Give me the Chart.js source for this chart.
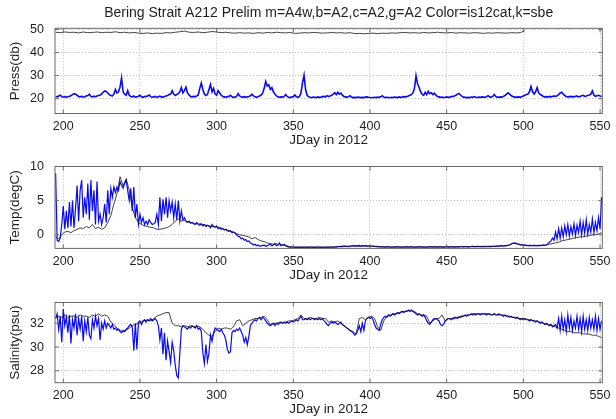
<!DOCTYPE html>
<html>
<head>
<meta charset="utf-8">
<title>Bering Strait A212</title>
<script src="https://cdn.jsdelivr.net/npm/chart.js@4.4.1/dist/chart.umd.min.js"></script>
<style>
  html, body { margin: 0; padding: 0; background: #fff; }
  #wrap { position: relative; width: 616px; height: 419px; overflow: hidden; }
  #wrap canvas { position: absolute; left: 0; }
</style>
</head>
<body>
<div id="wrap">
  <canvas id="press-chart" width="616" height="148" style="top:0px;width:616px;height:148px"></canvas>
  <canvas id="temp-chart" width="616" height="136" style="top:148px;width:616px;height:136px"></canvas>
  <canvas id="sal-chart" width="616" height="135" style="top:284px;width:616px;height:135px"></canvas>
</div>
<script>
// Bering Strait A212 mooring: pressure / temperature / salinity vs day

// x axis (JDay in 2012)
const dayMin = 194.6;
const dayMax = 551.5;
const dayTicks = [200, 250, 300, 350, 400, 450, 500, 550];

// ---- pressure (db) ----
const pressTicks = [20, 30, 40, 50];
const pressBlueStart = 195, pressBlueStep = 1;
const pressBlue = [
  21.0, 20.8, 21.2, 21.5, 20.9, 20.7, 21.0, 20.6, 20.9, 21.1,
  21.3, 21.8, 22.2, 22.0, 21.5, 21.0, 20.8, 21.1, 20.7, 20.9,
  21.2, 21.4, 22.0, 21.0, 20.8, 21.1, 20.9, 21.2, 21.4, 21.6,
  22.0, 22.8, 23.4, 23.2, 22.5, 21.8, 21.4, 21.2, 22.0, 24.0,
  22.5, 23.0, 25.0, 29.0, 23.0, 22.0, 21.5, 23.5, 21.5, 21.0,
  20.8, 21.2, 20.7, 20.9, 21.1, 21.5, 20.8, 20.6, 20.9, 21.0,
  21.2, 21.6, 20.9, 20.7, 20.8, 21.0, 20.6, 20.9, 21.1, 20.8,
  20.7, 21.0, 21.2, 21.4, 21.8, 22.0, 23.5, 22.0, 21.4, 21.8,
  22.2, 23.0, 24.8, 22.5, 23.5, 25.0, 22.5, 21.6, 21.0, 20.8,
  21.0, 20.9, 21.2, 21.6, 24.5, 26.8, 24.0, 22.0, 21.4, 21.8,
  24.0, 26.2, 23.0, 24.5, 22.0, 21.5, 23.5, 22.5, 21.5, 21.0,
  20.8, 20.6, 20.9, 21.0, 21.5, 20.8, 20.6, 20.7, 21.0, 22.2,
  21.2, 20.8, 20.6, 20.9, 20.7, 20.8, 21.0, 21.3, 22.0, 21.2,
  20.8, 20.6, 20.9, 21.2, 21.6, 22.4, 24.5, 27.5, 25.5, 26.0,
  24.0, 24.8, 23.0, 22.0, 21.2, 20.8, 20.6, 20.8, 20.7, 21.0,
  21.8, 21.0, 20.6, 20.5, 20.8, 20.9, 21.6, 20.8, 20.6, 21.0,
  22.5, 27.0, 30.2, 24.0, 21.5, 20.8, 20.6, 20.5, 20.7, 20.6,
  20.5, 20.8, 20.6, 20.7, 20.9, 21.0, 20.8, 21.3, 21.0, 21.2,
  21.5, 22.0, 22.6, 21.8, 22.8, 22.0, 22.4, 21.5, 21.0, 20.8,
  20.6, 20.9, 21.3, 20.7, 20.5, 20.6, 20.5, 20.7, 20.6, 20.5,
  20.6, 20.5, 20.7, 20.8, 20.6, 20.5, 20.4, 20.5, 20.6, 20.5,
  20.7, 20.6, 20.8, 21.3, 20.7, 20.5, 20.6, 20.5, 20.4, 20.6,
  20.5, 20.7, 20.6, 20.5, 20.8, 20.6, 20.7, 20.9, 20.8, 21.0,
  21.2, 21.5, 21.8, 22.5, 24.5, 30.0, 26.5, 25.0, 23.0, 22.0,
  21.5, 22.8, 21.8, 23.2, 22.2, 22.6, 21.8, 22.4, 21.5, 21.0,
  20.8, 20.6, 20.7, 20.5, 20.6, 20.8, 20.6, 20.7, 20.9, 21.0,
  21.2, 21.5, 22.0, 22.3, 21.6, 21.0, 20.7, 20.6, 20.5, 20.6,
  20.5, 20.7, 20.6, 20.9, 20.6, 20.5, 20.7, 20.6, 20.8, 20.7,
  20.6, 20.9, 21.3, 20.8, 20.7, 21.0, 21.8, 21.0, 20.7, 20.6,
  20.8, 20.7, 21.0, 21.4, 22.0, 22.6, 22.0, 21.4, 21.0, 20.8,
  20.6, 20.7, 20.8, 20.6, 20.9, 21.2, 21.5, 21.8, 22.0, 23.0,
  25.3, 23.0, 22.0, 23.0, 24.8, 22.5, 21.8, 21.5, 21.0, 20.8,
  20.9, 20.7, 21.0, 20.8, 21.0, 21.2, 21.0, 21.3, 21.8, 22.5,
  22.8, 22.0, 21.4, 21.0, 20.8, 20.9, 21.0, 20.8, 20.9, 21.0,
  21.2, 20.8, 21.0, 21.3, 21.5, 21.0, 21.2, 21.4, 21.6, 22.0,
  23.4, 21.5, 21.0, 21.3, 21.5, 21.2, 21.0
];
const pressBlackStart = 195, pressBlackStep = 3;
const pressBlack = [
  48.8, 48.6, 48.9, 48.7, 48.8, 48.5, 48.9, 48.6, 48.7, 48.9,
  48.6, 48.8, 48.7, 49.0, 48.6, 48.8, 48.5, 48.7, 48.4, 48.3,
  48.5, 48.2, 48.4, 48.3, 48.6, 48.5, 48.8, 49.0, 49.3, 48.8,
  48.7, 48.9, 48.6, 48.8, 49.1, 48.9, 48.6, 48.8, 48.5, 48.4,
  48.6, 48.4, 48.5, 48.3, 48.6, 48.4, 48.7, 48.5, 48.8, 48.6,
  48.5, 48.7, 48.3, 48.4, 48.6, 48.5, 48.7, 48.6, 48.4, 48.5,
  48.7, 48.5, 48.6, 48.4, 48.6, 48.2, 48.3, 48.1, 48.3, 48.4,
  48.2, 48.4, 48.3, 48.5, 48.4, 48.6, 48.7, 48.5, 48.6, 48.4,
  48.7, 48.5, 48.6, 48.8, 48.6, 48.5, 48.7, 48.4, 48.6, 48.5,
  48.4, 48.6, 48.5, 48.3, 48.5, 48.4, 48.6, 48.5, 48.4, 48.6,
  48.5, 48.6, 49.5
];

// ---- temperature (degC) ----
const tempTicks = [0, 5, 10];
const tempBlueStart = 195, tempBlueStep = 1;
const tempBlue = [
  9.0, -0.8, -1.0, -0.5, 1.5, 4.2, 0.8, 3.5, 1.0, 4.8,
  1.2, 5.0, 1.0, 3.8, 7.2, 2.0, 6.5, 8.0, 2.5, 5.5,
  3.0, 7.5, 2.2, 8.0, 3.5, 6.5, 1.5, 7.8, 2.0, 3.0,
  1.5, 2.5, 4.5, 1.8, 6.5, 3.0, 6.8, 5.5, 7.0, 6.2,
  7.0, 6.5, 7.8, 7.2, 6.8, 7.5, 8.0, 6.5, 5.0, 6.8,
  3.5, 7.0, 2.5, 4.5, 1.5, 3.0, 1.8, 2.5, 1.5, 2.0,
  1.5, 2.2, 1.8, 1.5, 1.6, 1.8, 3.0, 1.5, 5.5, 2.0,
  5.2, 3.0, 5.5, 2.5, 5.0, 3.5, 4.8, 2.5, 4.5, 2.2,
  5.0, 2.0, 3.5, 2.2, 2.5, 2.0, 1.8, 2.0, 1.7, 1.8,
  1.6, 1.5, 1.8, 1.5, 1.4, 1.6, 1.3, 1.5, 1.2, 1.4,
  1.3, 1.0, 1.5, 1.2, 1.1, 1.3, 0.9, 1.0, 0.8, 0.9,
  0.7, 0.8, 0.6, 0.5, 0.6, 0.3, 0.4, 0.2, 0.0, -0.2,
  -0.3, -0.6, -0.5, -0.8, -0.7, -1.0, -0.9, -1.2, -1.3, -1.5,
  -1.4, -1.6, -1.5, -1.7, -1.6, -1.6, -1.5, -1.7, -1.6, -1.5,
  -1.4, -1.6, -1.5, -1.3, -1.6, -1.5, -1.2, -1.6, -1.5, -1.4,
  -1.6, -1.7, -1.8, -1.8, -1.8, -1.85, -1.85, -1.85, -1.85, -1.85,
  -1.85, -1.85, -1.8, -1.85, -1.85, -1.85, -1.8, -1.85, -1.85, -1.85,
  -1.85, -1.8, -1.85, -1.85, -1.85, -1.85, -1.8, -1.85, -1.85, -1.8,
  -1.8, -1.85, -1.8, -1.8, -1.75, -1.75, -1.7, -1.75, -1.7, -1.7,
  -1.7, -1.75, -1.7,
  -1.65, -1.6, -1.7, -1.6, -1.65, -1.55, -1.7, -1.6, -1.65, -1.6,
  -1.7, -1.65, -1.6, -1.7, -1.65, -1.7, -1.75, -1.7,
  -1.75, -1.8, -1.75, -1.8, -1.8, -1.8, -1.75, -1.8, -1.8, -1.8,
  -1.8, -1.8, -1.75, -1.8, -1.8, -1.8, -1.8, -1.75, -1.8, -1.8,
  -1.8, -1.75, -1.8, -1.8, -1.8, -1.8, -1.8, -1.75, -1.8, -1.8,
  -1.8, -1.8, -1.8, -1.75, -1.8, -1.8, -1.75, -1.8, -1.8, -1.8,
  -1.75, -1.8, -1.8, -1.8, -1.75, -1.8, -1.8, -1.75, -1.8, -1.75,
  -1.8, -1.75, -1.8, -1.75, -1.75, -1.8, -1.75, -1.75, -1.8, -1.75,
  -1.75, -1.7, -1.75, -1.75, -1.7, -1.75, -1.75, -1.7, -1.75, -1.7,
  -1.75, -1.75, -1.7, -1.75, -1.7,
  -1.7, -1.7, -1.65, -1.7, -1.65, -1.6, -1.65, -1.6, -1.6, -1.55,
  -1.5, -1.35, -1.25, -1.2, -1.3, -1.35, -1.4, -1.5, -1.45,
  -1.55, -1.5, -1.55, -1.6, -1.55, -1.6, -1.6, -1.55, -1.6, -1.6,
  -1.55, -1.6, -1.55, -1.5, -1.55,
  -1.5, -1.3, -1.1, -0.9, -0.5, -0.8,
  0.4, -0.6, 0.9, -0.5, 1.0, -0.3, 1.3, 0.0, 1.5, -0.2,
  1.2, 0.1, 1.6, -0.1, 1.4, 0.3, 2.0, 0.0, 1.8, 0.2,
  2.2, 0.1, 1.5, 0.4, 2.3, 0.3, 1.8, 0.6, 2.5, 0.8, 5.5
];
const tempBlackStart = 195, tempBlackStep = 2;
const tempBlack = [
  -0.3, -0.6, 0.0, 0.4, 0.5, 0.3, 0.6, 0.8, 1.0, 0.9,
  1.2, 1.0, 1.5, 0.9, 1.1, 0.8, 1.0, 1.8, 2.8, 4.5,
  6.0, 8.5, 7.2, 8.2, 6.5, 4.0, 2.5, 1.8, 1.5, 1.3,
  1.2, 1.1, 1.0, 0.8, 0.8, 0.9, 1.0, 1.2, 1.5, 2.0,
  2.3, 2.0, 2.1, 1.9, 1.8, 1.7, 1.6, 1.6, 1.5, 1.4,
  1.3, 1.2, 1.2, 1.1, 1.0, 0.8, 0.7, 0.5, 0.4, 0.2,
  0.0, -0.1, -0.2, -0.3, -0.6, -0.4, -0.7, -0.9, -1.0, -1.2,
  -1.3, -1.4, -1.3, -1.5, -1.5, -1.6, -1.7, -1.8, -1.8, -1.8,
  -1.8, -1.8, -1.8, -1.8, -1.8, -1.8, -1.8, -1.8, -1.8, -1.8, -1.8, -1.75, -1.75,
  -1.7, -1.65, -1.7, -1.65, -1.6, -1.65, -1.7, -1.65, -1.6, -1.65, -1.7, -1.7, -1.75, -1.75, -1.75,
  -1.75, -1.8, -1.8, -1.75, -1.8, -1.8, -1.8, -1.75, -1.8, -1.8,
  -1.75, -1.8, -1.8, -1.8, -1.75, -1.8, -1.75, -1.75, -1.8, -1.75,
  -1.75, -1.75, -1.8, -1.75, -1.75, -1.7, -1.75, -1.75, -1.7, -1.75,
  -1.7, -1.75, -1.7, -1.7, -1.7,
  -1.7, -1.65, -1.6, -1.65, -1.6, -1.5,
  -1.3, -1.2, -1.35, -1.5,
  -1.55, -1.6, -1.55, -1.6, -1.6, -1.55, -1.6, -1.5,
  -1.4, -1.3, -1.2, -1.1, -0.9, -0.8, -0.7, -0.6, -0.5, -0.4,
  -0.3, -0.3, -0.2, -0.1, 0.0, 0.0, 0.1, 0.3
];

// ---- salinity (psu) ----
const salTicks = [28, 30, 32];
const salBlueStart = 195, salBlueStep = 1;
const salBlue = [
  32.4, 32.8, 31.5, 32.6, 30.4, 33.2, 31.8, 32.5, 31.2, 32.7,
  30.3, 32.3, 31.6, 32.8, 31.0, 32.4, 31.5, 32.6, 30.5, 32.2,
  31.3, 32.5, 31.0, 30.7, 32.3, 31.6, 32.6, 31.8, 32.4, 30.6,
  32.0, 31.5, 32.2, 31.6, 32.0, 31.8, 31.6, 31.9, 31.5, 31.6,
  31.4, 31.5, 31.3, 31.2, 31.4, 31.3, 31.5, 31.6, 31.8, 31.9,
  31.7, 29.7, 32.0, 29.8, 32.1, 32.2, 31.9, 32.2, 32.3, 32.1,
  32.3, 32.2, 32.4, 32.2, 32.3, 32.4, 32.2, 31.8, 30.6, 31.6,
  29.4, 31.2, 28.9, 30.5, 29.6, 28.7, 30.4, 29.7, 28.5, 27.6,
  27.4, 29.5, 31.5, 31.8, 31.7, 31.6, 31.5, 31.7, 31.6, 31.8,
  31.7, 31.6, 31.8, 31.5, 31.6, 31.3, 29.5, 28.6, 30.2, 28.8,
  29.5, 31.0, 30.5, 31.2, 31.6, 31.5, 31.4, 31.3, 31.5, 31.2,
  31.0, 30.6, 29.8, 29.5, 29.6, 31.2, 31.4, 31.3, 31.5, 31.4,
  31.6, 31.3, 31.0, 30.4, 30.8, 30.2, 30.9, 31.8, 32.0, 32.2,
  32.3, 32.2, 32.4, 32.5, 32.3, 32.5, 32.4, 32.2, 32.0, 31.9,
  31.8, 31.9, 32.0, 31.8, 32.0, 31.9, 32.0, 32.1, 32.0, 32.1,
  32.0, 32.1, 32.0, 32.1, 32.2, 32.1, 32.2, 32.3, 32.2, 32.4,
  32.6, 32.3, 32.3, 32.4, 32.3, 32.4, 32.3, 32.4, 32.4, 32.3,
  32.4, 32.3, 32.4, 32.3, 32.4, 32.2, 32.1, 31.9, 31.8, 32.0,
  32.1, 32.0, 32.1, 32.0, 31.9, 32.0, 32.1, 31.9, 31.8, 31.7,
  31.6, 31.5, 31.4, 31.3, 31.2, 31.0, 31.1, 31.4, 31.8, 31.3,
  32.0, 31.4, 32.2, 32.4, 32.5, 32.4, 32.5, 32.3, 31.9, 31.6,
  31.5, 31.4, 31.9, 32.3, 32.5, 32.6, 32.5, 32.7, 32.6, 32.7,
  32.8, 32.7, 32.8, 32.9, 32.8, 32.9, 33.0, 32.9, 33.0, 33.0,
  33.1, 33.0, 33.1, 33.0, 32.9, 32.8, 32.7, 32.8, 32.7, 32.6,
  32.7, 32.5, 32.2, 32.0, 31.9, 32.1, 32.3, 32.4, 32.4, 32.3,
  32.2, 31.9, 31.8, 31.9, 32.2, 32.3, 32.4, 32.4, 32.3, 32.4,
  32.4, 32.5, 32.4, 32.5, 32.5, 32.6, 32.6, 32.7, 32.6, 32.7,
  32.7, 32.8, 32.7, 32.8, 32.7, 32.8, 32.8, 32.7, 32.8, 32.8,
  32.8, 32.7, 32.8, 32.8, 32.7, 32.7, 32.8, 32.7, 32.7, 32.8,
  32.7, 32.7, 32.6, 32.7, 32.6, 32.6, 32.5, 32.6, 32.5, 32.5,
  32.4, 32.5, 32.4, 32.3, 32.4, 32.3, 32.4, 32.3, 32.3, 32.2,
  32.3, 32.2, 32.2, 32.1, 32.2, 32.1, 32.0, 32.1, 32.0, 31.9,
  32.0, 31.9, 31.8, 31.9, 31.7, 31.8, 31.9, 31.6, 32.4, 31.4,
  32.6, 31.5, 32.3, 31.3, 32.7, 31.6, 32.5, 31.4, 32.2, 31.6,
  32.6, 31.5, 32.4, 31.3, 32.6, 31.5, 32.3, 31.4, 32.5, 31.6,
  32.3, 31.5, 32.6, 31.4, 32.4, 31.5, 32.2
];
const salBlackStart = 195, salBlackStep = 2;
const salBlack = [
  32.5, 32.6, 32.5, 32.7, 32.5, 32.6, 32.6, 32.5, 32.7, 32.6,
  32.6, 32.5, 32.7, 32.6, 32.8, 32.6, 32.7, 32.6, 32.1, 31.9,
  31.6, 31.4, 31.3, 31.4, 31.6, 31.8, 31.9, 32.0, 32.1, 32.2,
  32.3, 32.2, 32.4, 32.6, 32.7, 32.8, 32.9, 32.9, 32.0, 31.8,
  31.8, 31.7, 31.8, 31.7, 31.8, 31.7, 31.8, 31.7, 31.5, 31.2,
  31.0, 30.9, 31.3, 31.6, 31.5, 31.6, 31.6, 31.5, 31.7, 32.2,
  32.3, 31.8, 32.0, 32.2, 32.3, 32.4, 32.4, 32.5, 32.6, 32.3,
  31.9, 32.0, 32.0, 32.1, 32.0, 32.1, 32.2, 32.2, 32.3, 32.4,
  32.7, 32.4, 32.4, 32.5, 32.4, 32.4, 32.5, 32.4, 32.4, 32.1,
  32.2, 32.1, 32.2, 32.0, 31.8, 31.6, 31.4, 31.3, 31.1, 32.4,
  32.5, 32.3, 32.5, 32.6, 32.4, 31.7, 31.4, 32.2, 32.6, 32.7,
  32.8, 32.8, 32.9, 33.0, 33.0, 33.1, 33.1, 33.0, 32.8, 32.7,
  32.7, 32.6, 32.0, 32.2, 32.4, 32.4, 32.7, 32.2, 32.4, 32.4,
  32.5, 32.5, 32.6, 32.6, 32.7, 32.7, 32.8, 32.8, 32.8, 32.8,
  32.8, 32.8, 32.7, 32.8, 32.7, 32.7, 32.7, 32.6, 32.6, 32.5,
  32.5, 32.4, 32.4, 32.4, 32.3, 32.3, 32.2, 32.2, 32.1, 32.0,
  31.9, 31.9, 31.8, 31.7, 31.6, 31.5, 31.4, 31.3, 31.3, 31.2,
  31.2, 31.2, 31.1, 31.1, 31.1, 31.0, 31.0, 30.9, 30.8
];

const mainTitle = 'Bering Strait A212 Prelim m=A4w,b=A2,c=A2,g=A2 Color=is12cat,k=sbe';
const fontFamily = '"Liberation Sans", Arial, Helvetica, sans-serif';

Chart.defaults.font.family = fontFamily;
Chart.defaults.font.size = 12.5;
Chart.defaults.color = '#1e1e1e';

// turn a regularly sampled series into {x, y} points
function toPoints(start, step, values) {
  return values.map((v, i) => ({ x: start + i * step, y: v }));
}

// box around the axes with inward tick marks, plus optional title on top
const boxPlugin = {
  id: 'matlabBox',
  afterDatasetsDraw(chart, args, opts) {
    const { ctx, chartArea: a, scales } = chart;
    ctx.save();
    ctx.strokeStyle = '#6a6a6a';
    ctx.lineWidth = 1;
    ctx.strokeRect(a.left, a.top, a.right - a.left, a.bottom - a.top);
    ctx.beginPath();
    scales.x.ticks.forEach(t => {
      const px = scales.x.getPixelForValue(t.value);
      ctx.moveTo(px, a.bottom); ctx.lineTo(px, a.bottom - 4);
      ctx.moveTo(px, a.top); ctx.lineTo(px, a.top + 4);
    });
    scales.y.ticks.forEach(t => {
      const py = scales.y.getPixelForValue(t.value);
      ctx.moveTo(a.left, py); ctx.lineTo(a.left + 4, py);
      ctx.moveTo(a.right, py); ctx.lineTo(a.right - 4, py);
    });
    ctx.stroke();
    if (opts.title) {
      ctx.fillStyle = '#1e1e1e';
      ctx.font = '14px ' + fontFamily;
      ctx.textAlign = 'center';
      ctx.textBaseline = 'middle';
      ctx.fillText(opts.title, (a.left + a.right) / 2, 13);
    }
    ctx.restore();
  }
};

function makePanel(canvasId, p) {
  const ctx = document.getElementById(canvasId).getContext('2d');
  return new Chart(ctx, {
    type: 'line',
    data: {
      datasets: [
        {
          label: 'sbe',
          data: p.black,
          borderColor: '#151515',
          borderWidth: 0.8,
          pointRadius: 0,
          tension: 0
        },
        {
          label: 'A2',
          data: p.blue,
          borderColor: '#0a0af0',
          borderWidth: p.blueWidth,
          pointRadius: 0,
          tension: 0
        }
      ]
    },
    options: {
      responsive: false,
      animation: false,
      devicePixelRatio: 1,
      normalized: true,
      layout: { padding: { top: p.plotTop, right: 9, bottom: 0, left: 0 } },
      plugins: {
        legend: { display: false },
        tooltip: { enabled: false },
        matlabBox: { title: p.title || '' }
      },
      scales: {
        x: {
          type: 'linear',
          min: dayMin,
          max: dayMax,
          afterBuildTicks: s => { s.ticks = dayTicks.map(v => ({ value: v })); },
          afterFit: s => { s.height = p.xHeight; },
          grid: { color: '#bdbdbd', drawTicks: false },
          border: { display: false, dash: [1, 2] },
          ticks: { padding: 5.5, autoSkip: false, maxRotation: 0 },
          title: { display: true, text: 'JDay in 2012', font: { size: 13.5 }, padding: { top: 0, bottom: p.xTitlePad } }
        },
        y: {
          type: 'linear',
          min: p.yMin,
          max: p.yMax,
          afterBuildTicks: s => { s.ticks = p.yTicks.map(v => ({ value: v })); },
          afterFit: s => { s.width = 55; },
          grid: { color: '#bdbdbd', drawTicks: false },
          border: { display: false, dash: [1, 2] },
          ticks: { padding: 11, autoSkip: false },
          title: { display: true, text: p.yTitle, font: { size: 13.5 }, padding: { top: 7, bottom: 0 } }
        }
      }
    },
    plugins: [boxPlugin]
  });
}

makePanel('press-chart', {
  title: mainTitle,
  yTitle: 'Press(db)',
  yMin: 13.6, yMax: 50.5, yTicks: pressTicks,
  plotTop: 28.3, xHeight: 34.5, xTitlePad: 0,
  blueWidth: 1.6,
  black: toPoints(pressBlackStart, pressBlackStep, pressBlack),
  blue: toPoints(pressBlueStart, pressBlueStep, pressBlue)
});

makePanel('temp-chart', {
  yTitle: 'Temp(degC)',
  yMin: -2, yMax: 10, yTicks: tempTicks,
  plotTop: 15.3, xHeight: 35.6, xTitlePad: 0.5,
  blueWidth: 1.2,
  black: toPoints(tempBlackStart, tempBlackStep, tempBlack),
  blue: toPoints(tempBlueStart, tempBlueStep, tempBlue)
});

makePanel('sal-chart', {
  yTitle: 'Salinity(psu)',
  yMin: 27, yMax: 33.75, yTicks: salTicks,
  plotTop: 13.3, xHeight: 36.3, xTitlePad: 2,
  blueWidth: 1.2,
  black: toPoints(salBlackStart, salBlackStep, salBlack),
  blue: toPoints(salBlueStart, salBlueStep, salBlue)
});
</script>
</body>
</html>
